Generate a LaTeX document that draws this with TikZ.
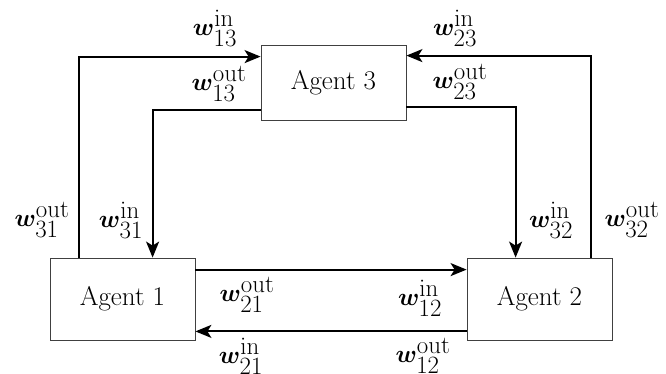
\documentclass[tikz,border=0pt]{standalone}
\usepackage{amsmath}
\usepackage{bm}
\usetikzlibrary{arrows.meta}
\begin{document}
\begin{tikzpicture}[x=1pt,y=-1pt,
  agent/.style={draw=black!75,line width=0.8pt,minimum width=145pt,inner sep=0pt,font=\fontsize{27}{32}\selectfont},
  arr/.style={line width=2pt,-{Stealth[length=16pt,width=13pt,inset=4pt]},line join=miter},
  lab/.style={inner sep=0pt,font=\fontsize{33}{40}\selectfont}]
\useasboundingbox (0,0) rectangle (666,374);
\node[agent,minimum height=75pt] (a3) at (333.5,82.5) {Agent 3};
\node[agent,minimum height=82pt] (a1) at (122.5,299) {Agent 1};
\node[agent,minimum height=82pt] (a2) at (539.5,299) {Agent 2};
\draw[arr] ([xshift=29pt]a1.north west) |- ([yshift=-12pt]a3.north west);
\draw[arr] ([yshift=10pt]a3.south west) -| ([xshift=103pt]a1.north west);
\draw[arr] ([yshift=13pt]a3.south east) -| ([xshift=49pt]a2.north west);
\draw[arr] ([xshift=-21pt]a2.north east) |- ([yshift=-11pt]a3.north east);
\draw[arr] ([yshift=-12pt]a1.north east) -- ([yshift=-12pt]a2.north west);
\draw[arr] ([yshift=9pt]a2.south west) -- ([yshift=9pt]a1.south east);
\node[lab] (l13i) at (215,28) {$\bm{w}_{13}^{\mathrm{in}}$};
\node[lab] (l13o) at (219,84) {$\bm{w}_{13}^{\mathrm{out}}$};
\node[lab] (l23i) at (455,28) {$\bm{w}_{23}^{\mathrm{in}}$};
\node[lab] (l23o) at (460,82) {$\bm{w}_{23}^{\mathrm{out}}$};
\node[lab] (l31o) at (42,220) {$\bm{w}_{31}^{\mathrm{out}}$};
\node[lab] (l31i) at (121,220) {$\bm{w}_{31}^{\mathrm{in}}$};
\node[lab] (l21o) at (247,295) {$\bm{w}_{21}^{\mathrm{out}}$};
\node[lab] (l21i) at (241,356) {$\bm{w}_{21}^{\mathrm{in}}$};
\node[lab] (l32i) at (551,220) {$\bm{w}_{32}^{\mathrm{in}}$};
\node[lab] (l32o) at (632,220) {$\bm{w}_{32}^{\mathrm{out}}$};
\node[lab] (l12i) at (420,298) {$\bm{w}_{12}^{\mathrm{in}}$};
\node[lab] (l12o) at (423,356) {$\bm{w}_{12}^{\mathrm{out}}$};
\end{tikzpicture}
\end{document}
